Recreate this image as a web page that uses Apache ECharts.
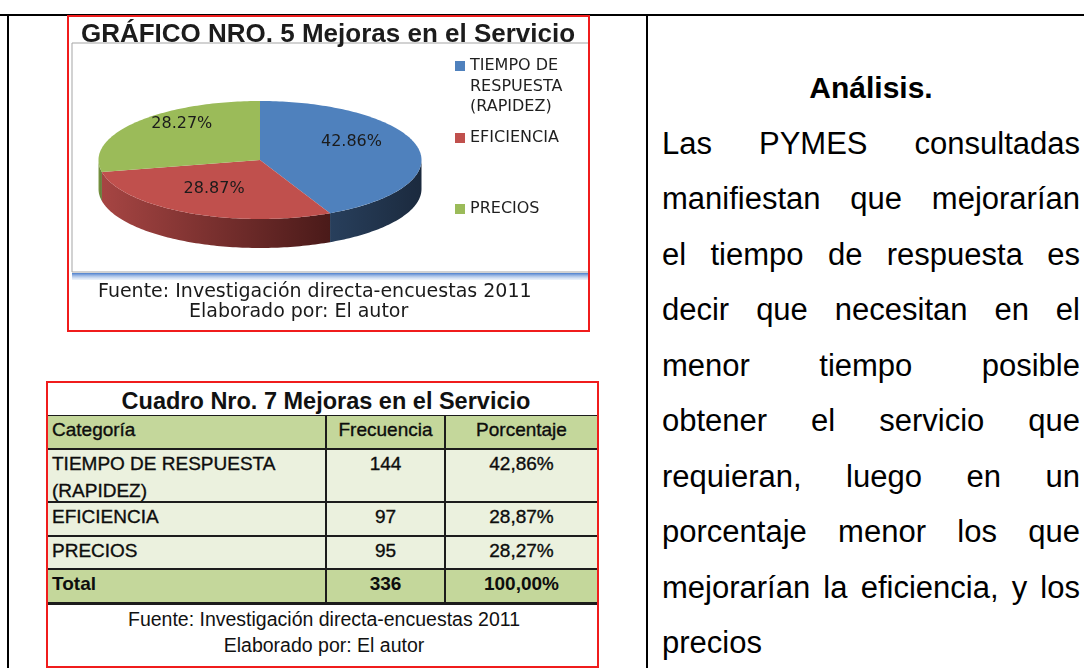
<!DOCTYPE html>
<html lang="es">
<head>
<meta charset="utf-8">
<title>Mejoras en el Servicio</title>
<script src="https://cdn.jsdelivr.net/npm/echarts@6/dist/echarts.min.js"></script>
<style>
  html, body { margin: 0; padding: 0; background: #fff; }
  body { position: relative; width: 1084px; height: 668px; overflow: hidden;
         font-family: 'Liberation Sans', Arial, sans-serif; color: #000; }
  .rule { position: absolute; background: #000; }
  .redbox { position: absolute; border: 2px solid #f01c1c; box-sizing: border-box; pointer-events: none; z-index: 5; }
  #chart { position: absolute; left: 67px; top: 15px; width: 522px; height: 316px; }
  .caption { position: absolute; white-space: nowrap; transform: translate(-50%, -50%); font-size: 19.5px; color: #111; }
  .cuadro-title { position: absolute; white-space: nowrap; transform: translate(-50%, -50%); font-size: 23.5px; font-weight: bold; color: #111; }
  #grid { position: absolute; background: #1c1c1c; }
  .cell { position: absolute; box-sizing: border-box; font-size: 19px; line-height: 27px; color: #0d0d0d;
          padding: 0 4px; -webkit-text-stroke: 0.35px #0d0d0d; }
  .cell.num { text-align: center; }
  .cell.bold { font-weight: bold; -webkit-text-stroke: 0; }
  #analisis { position: absolute; left: 662px; top: 60px; width: 418px; font-size: 31px; line-height: 55.5px; }
  #analisis .head { text-align: center; font-weight: bold; font-size: 30px; }
  #analisis .jl { text-align: justify; text-align-last: justify; }
</style>
</head>
<body>
<div class="rule" style="left:0;top:14px;width:1084px;height:2px"></div>
<div class="rule" style="left:7px;top:14px;width:2px;height:654px"></div>
<div class="rule" style="left:646px;top:14px;width:2px;height:654px"></div>

<div id="chart"></div>
<div class="redbox" style="left:67px;top:15px;width:523px;height:317px"></div>

<div class="redbox" style="left:46px;top:381px;width:553px;height:287px"></div>
<div class="cuadro-title" style="left:326px;top:401px">Cuadro Nro. 7 Mejoras en el Servicio</div>
<div id="grid"></div>
<div class="caption" style="left:324px;top:619px">Fuente: Investigación directa-encuestas 2011</div>
<div class="caption" style="left:324px;top:645px">Elaborado por: El autor</div>

<div id="analisis"></div>

<script>
// data
const categories = ['TIEMPO DE RESPUESTA (RAPIDEZ)', 'EFICIENCIA', 'PRECIOS'];
const legendNames = ['TIEMPO DE\nRESPUESTA\n(RAPIDEZ)', 'EFICIENCIA', 'PRECIOS'];
const frecuencia = [144, 97, 95];
const porcentaje = [42.86, 28.87, 28.27];
const tableHeader = ['Categoría', 'Frecuencia', 'Porcentaje'];

const topColors = ['#4f81bd', '#c0504d', '#9bbb59'];
const sideColors = [['#283f5c', '#1b2a3e'], ['#a64543', '#4a1a19'], ['#7d9a45', '#5c7232']];

const analisisLines = [
  'Las PYMES consultadas',
  'manifiestan que mejorarían',
  'el tiempo de respuesta es',
  'decir que necesitan en el',
  'menor tiempo posible',
  'obtener el servicio que',
  'requieran, luego en un',
  'porcentaje menor los que',
  'mejorarían la eficiencia, y los',
  'precios'
];

// pie geometry (3D look, tilted ellipse)
const PIE = { cx: 193, cy: 145, rx: 161.5, ry: 59, depth: 29 };
const total = porcentaje.reduce((a, b) => a + b, 0);

function ellipsePt(a, dy) {
  return [PIE.cx + PIE.rx * Math.sin(a), PIE.cy - PIE.ry * Math.cos(a) + dy];
}
function arc(a0, a1, dy) {
  const n = Math.max(2, Math.ceil((a1 - a0) / 0.02));
  const pts = [];
  for (let k = 0; k <= n; k++) pts.push(ellipsePt(a0 + (a1 - a0) * k / n, dy));
  return pts;
}

function renderSlice(params, api) {
  const i = params.dataIndex;
  let before = 0;
  for (let j = 0; j < i; j++) before += porcentaje[j];
  const a0 = before / total * Math.PI * 2;
  const a1 = (before + api.value(0)) / total * Math.PI * 2;
  const children = [];

  // visible rim on the front half
  const s0 = Math.max(a0, Math.PI / 2);
  const s1 = Math.min(a1, Math.PI * 1.5);
  if (s1 > s0) {
    const pts = arc(s0, s1, 0).concat(arc(s0, s1, PIE.depth).reverse());
    children.push({
      type: 'polygon', z2: 1,
      shape: { points: pts },
      style: {
        fill: new echarts.graphic.LinearGradient(0, 0, 1, 0, [
          { offset: 0, color: sideColors[i][0] },
          { offset: 1, color: sideColors[i][1] }
        ])
      }
    });
  }
  children.push({
    type: 'polygon', z2: 5,
    shape: { points: [[PIE.cx, PIE.cy]].concat(arc(a0, a1, 0)) },
    style: { fill: topColors[i] }
  });
  const m = (a0 + a1) / 2;
  children.push({
    type: 'text', z2: 10,
    x: PIE.cx + PIE.rx * 0.6 * Math.sin(m) - 3,
    y: PIE.cy - PIE.ry * 0.72 * Math.cos(m) - 9,
    style: {
      text: api.value(0).toFixed(2) + '%',
      fill: '#1b1b1b',
      font: '16px "DejaVu Sans"',
      align: 'center',
      verticalAlign: 'middle'
    }
  });
  return { type: 'group', children: children };
}

const legendRowsY = [51, 123, 194];
const legendGraphics = [];
legendNames.forEach((name, i) => {
  legendGraphics.push({
    type: 'rect',
    shape: { x: 388, y: legendRowsY[i] - 5, width: 10, height: 10 },
    style: { fill: topColors[i] }
  });
  legendGraphics.push({
    type: 'text',
    x: 403, y: legendRowsY[i] - 10.25,
    style: {
      text: name, fill: '#1f1f1f', font: '16px "DejaVu Sans"',
      lineHeight: 20.5, verticalAlign: 'top'
    }
  });
});

const chart = echarts.init(document.getElementById('chart'), null, { renderer: 'canvas' });
chart.setOption({
  animation: false,
  title: {
    text: 'GRÁFICO NRO. 5 Mejoras en el Servicio',
    left: 'center',
    top: 2,
    textStyle: { fontFamily: 'Liberation Sans', fontSize: 26, fontWeight: 'bold', color: '#1c1c1c' }
  },
  graphic: [
    {
      type: 'rect', z: -10,
      shape: { x: 5, y: 28, width: 530, height: 229 },
      style: { fill: '#fff', stroke: '#a5a5a5', lineWidth: 1 }
    },
    {
      type: 'rect', z: -10,
      shape: { x: 5, y: 258, width: 530, height: 7 },
      style: {
        fill: new echarts.graphic.LinearGradient(0, 0, 0, 1, [
          { offset: 0, color: '#4a7dcc' },
          { offset: 1, color: 'rgba(200,218,242,0.3)' }
        ])
      }
    },
    {
      type: 'text', x: 31, y: 277,
      style: { text: 'Fuente: Investigación directa-encuestas 2011', font: '19px "DejaVu Sans"', fill: '#1a1a1a', verticalAlign: 'middle' }
    },
    {
      type: 'text', x: 122, y: 297,
      style: { text: 'Elaborado por: El autor', font: '19px "DejaVu Sans"', fill: '#1a1a1a', verticalAlign: 'middle' }
    }
  ].concat(legendGraphics),
  series: [{
    type: 'custom',
    coordinateSystem: 'none',
    silent: true,
    renderItem: renderSlice,
    data: porcentaje
  }]
});

// Cuadro Nro. 7 (table built from the same arrays)
const colX = [48, 327, 446, 599];
const rowY = [416, 450, 503, 537, 570, 604];
const grid = document.getElementById('grid');
grid.style.left = colX[0] - 1 + 'px';
grid.style.top = rowY[0] - 1 + 'px';
grid.style.width = colX[3] - colX[0] + 1 + 'px';
grid.style.height = rowY[5] - rowY[0] + 2 + 'px';

const fmt = v => v.toFixed(2).replace('.', ',') + '%';
const sumFrec = frecuencia.reduce((a, b) => a + b, 0);
const sumPct = porcentaje.reduce((a, b) => a + b, 0);
const rows = [tableHeader]
  .concat(categories.map((c, i) => [c, String(frecuencia[i]), fmt(porcentaje[i])]))
  .concat([['Total', String(sumFrec), fmt(sumPct)]]);

rows.forEach((row, r) => {
  const shaded = r === 0 || r === rows.length - 1;
  row.forEach((txt, c) => {
    const d = document.createElement('div');
    d.className = 'cell' + (c > 0 ? ' num' : '') + (r === rows.length - 1 ? ' bold' : '');
    d.style.left = colX[c] - colX[0] + 1 + 'px';
    d.style.top = rowY[r] - rowY[0] + 1 + 'px';
    d.style.width = colX[c + 1] - colX[c] - 2 + 'px';
    d.style.height = rowY[r + 1] - rowY[r] - 2 + 'px';
    d.style.background = shaded ? '#c4d79b' : '#ebf1de';
    d.textContent = txt;
    grid.appendChild(d);
  });
});

// Análisis text
const an = document.getElementById('analisis');
const head = document.createElement('div');
head.className = 'head';
head.textContent = 'Análisis.';
an.appendChild(head);
analisisLines.forEach((line, i) => {
  const d = document.createElement('div');
  if (i < analisisLines.length - 1) d.className = 'jl';
  d.textContent = line;
  an.appendChild(d);
});
</script>
</body>
</html>
